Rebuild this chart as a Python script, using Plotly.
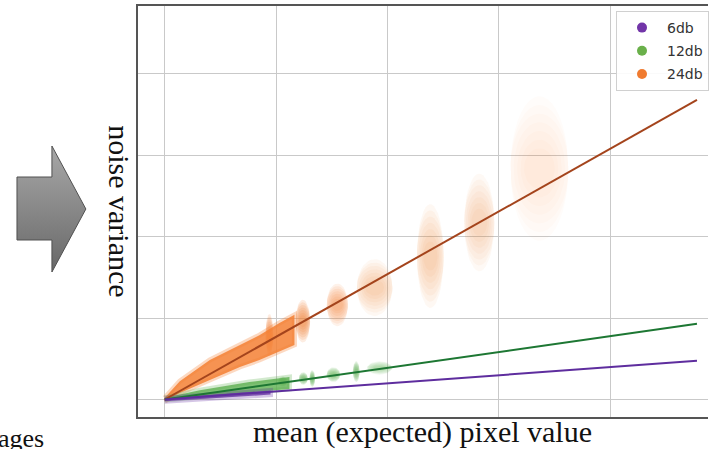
import base64
import numpy as np
import plotly.graph_objects as go

# ---------------- data (axis units: gridlines at 0, 0.2, 0.4, ...) ----------------
series_names = ["6db", "12db", "24db"]

fit_x = [0.0, 0.956]
fit_6db = [0.0, 0.095]
fit_12db = [0.0, 0.186]
fit_24db = [0.0, 0.736]

# dense continuous bands (upper / lower envelope)
band24_x = [0.0, 0.027, 0.081, 0.135, 0.170, 0.206, 0.233]
band24_hi = [0.004, 0.045, 0.097, 0.134, 0.158, 0.188, 0.208]
band24_lo = [-0.004, 0.016, 0.048, 0.080, 0.097, 0.117, 0.134]

band12_x = [0.0, 0.063, 0.152, 0.224]
band12_hi = [0.004, 0.023, 0.043, 0.055]
band12_lo = [-0.001, 0.006, 0.018, 0.026]

band6_x = [0.0, 0.19]
band6_hi = [0.003, 0.022]
band6_lo = [-0.004, 0.012]

# separate clusters of samples (centre, half width, low, high, density)
c24_x = [0.188, 0.248, 0.310, 0.377, 0.477, 0.565, 0.673]
c24_hw = [0.007, 0.013, 0.019, 0.032, 0.024, 0.027, 0.052]
c24_lo = [0.107, 0.140, 0.180, 0.205, 0.225, 0.315, 0.390]
c24_hi = [0.210, 0.245, 0.285, 0.345, 0.480, 0.555, 0.745]
c24_a = [0.75, 0.7, 0.5, 0.3, 0.3, 0.25, 0.12]

c12_x = [0.212, 0.249, 0.265, 0.303, 0.344, 0.386]
c12_hw = [0.008, 0.008, 0.005, 0.012, 0.006, 0.022]
c12_lo = [0.031, 0.036, 0.031, 0.043, 0.043, 0.061]
c12_hi = [0.057, 0.067, 0.072, 0.079, 0.094, 0.094]
c12_a = [0.75, 0.75, 0.8, 0.65, 0.75, 0.4]

# ---------------- styles ----------------
PT = {"6db": (104, 52, 164), "12db": (92, 176, 80), "24db": (244, 128, 52)}
LEG = {"6db": "#7235A8", "12db": "#6AB04A", "24db": "#F07B30"}
FIT = {"6db": "#5E2D9E", "12db": "#1D7733", "24db": "#A4441C"}


def rgba(c, a):
    return f"rgba({c[0]},{c[1]},{c[2]},{a})"


fig = go.Figure()


def add_band(x, hi, lo, col, alpha):
    fig.add_trace(go.Scatter(
        x=list(x) + list(x)[::-1], y=list(hi) + list(lo)[::-1],
        fill="toself", fillcolor=rgba(col, alpha), mode="lines",
        line=dict(color=rgba(col, alpha * 0.35), width=5),
        hoverinfo="skip", showlegend=False))


def add_clusters(cx, hw, lo, hi, al, col):
    t = np.linspace(0, 2 * np.pi, 40)
    scales = (1.0, 0.88, 0.76, 0.64, 0.52, 0.40, 0.28)
    for x0, w, l, h, a in zip(cx, hw, lo, hi, al):
        cy, ry = (l + h) / 2, (h - l) / 2
        for s in scales:
            fig.add_trace(go.Scatter(
                x=x0 + w * min(1.0, s + 0.25) * np.cos(t),
                y=cy + ry * s * np.sin(t),
                fill="toself", fillcolor=rgba(col, round(a / 5, 3)), mode="lines",
                line=dict(width=0), hoverinfo="skip", showlegend=False))


add_clusters(c24_x, c24_hw, c24_lo, c24_hi, c24_a, PT["24db"])
add_band(band24_x, band24_hi, band24_lo, PT["24db"], 0.85)
add_clusters(c12_x, c12_hw, c12_lo, c12_hi, c12_a, PT["12db"])
add_band(band12_x, band12_hi, band12_lo, PT["12db"], 0.8)
add_band(band6_x, band6_hi, band6_lo, PT["6db"], 0.8)

for name, fy in zip(["24db", "12db", "6db"], [fit_24db, fit_12db, fit_6db]):
    fig.add_trace(go.Scatter(x=fit_x, y=fy, mode="lines",
                             line=dict(color=FIT[name], width=2),
                             hoverinfo="skip", showlegend=False))

for i, name in enumerate(series_names):
    fig.add_trace(go.Scatter(x=[None], y=[None], mode="markers", name=name,
                             legendgroup=name,
                             marker=dict(color=LEG[name], size=10)))

# ---------------- arrow (decoration, svg image) ----------------
svg = ('<svg xmlns="http://www.w3.org/2000/svg" width="709" height="449" viewBox="0 0 709 449">'
       '<defs><linearGradient id="g" x1="0" y1="0" x2="0" y2="1">'
       '<stop offset="0" stop-color="#a8a8a8"/><stop offset="1" stop-color="#686868"/>'
       '</linearGradient></defs>'
       '<polygon points="17,177 52,177 52,146 86,209 52,272 52,240 17,240" '
       'fill="url(#g)" stroke="#505050" stroke-width="1"/></svg>')
src = "data:image/svg+xml;base64," + base64.b64encode(svg.encode()).decode()

W, H = 709, 449
axis_common = dict(showticklabels=False, ticks="", zeroline=False,
                   showgrid=True, gridcolor="#c9c9c9", gridwidth=1.3,
                   showline=True, linecolor="#555555", linewidth=1.6)
SERIF = dict(family="Liberation Serif", size=30, color="#111111")

fig.update_layout(
    width=W, height=H,
    margin=dict(l=0, r=0, t=0, b=0),
    paper_bgcolor="white", plot_bgcolor="white",
    xaxis=dict(domain=[138 / W, 1.0], range=[-0.0484, 0.9758],
               tickvals=[0, 0.2, 0.4, 0.6, 0.8], mirror=True, **axis_common),
    yaxis=dict(domain=[(H - 417) / H, (H - 6) / H], range=[-0.043, 0.9668],
               tickvals=[0, 0.2, 0.4, 0.6, 0.8], mirror=False, **axis_common),
    showlegend=True,
    legend=dict(x=617 / W, y=(H - 11) / H, xref="paper", yref="paper",
                xanchor="left", yanchor="top",
                bgcolor="rgba(255,255,255,0.9)", bordercolor="#d0d0d0", borderwidth=1,
                font=dict(family="DejaVu Sans", size=14, color="#333333"),
                itemwidth=40, tracegroupgap=2, traceorder="grouped"),
    images=[dict(source=src, xref="paper", yref="paper", x=0, y=1,
                 sizex=1, sizey=1, sizing="stretch", xanchor="left",
                 yanchor="top", layer="below")],
    annotations=[
        dict(text="mean (expected) pixel value", x=423 / W, y=(H - 432) / H,
             xref="paper", yref="paper", showarrow=False,
             xanchor="center", yanchor="middle", font=SERIF),
        dict(text="noise variance", x=120 / W, y=(H - 211) / H,
             xref="paper", yref="paper", showarrow=False, textangle=90,
             xanchor="center", yanchor="middle", font=SERIF),
        dict(text="ages", x=46 / W, y=(H - 438) / H,
             xref="paper", yref="paper", showarrow=False,
             xanchor="right", yanchor="middle",
             font=dict(family="Liberation Serif", size=26, color="#111111")),
    ],
)

fig.write_html("out.html", config={"displayModeBar": False},
               post_script="document.body.style.margin='0';"
                           "document.body.style.overflow='hidden';")
